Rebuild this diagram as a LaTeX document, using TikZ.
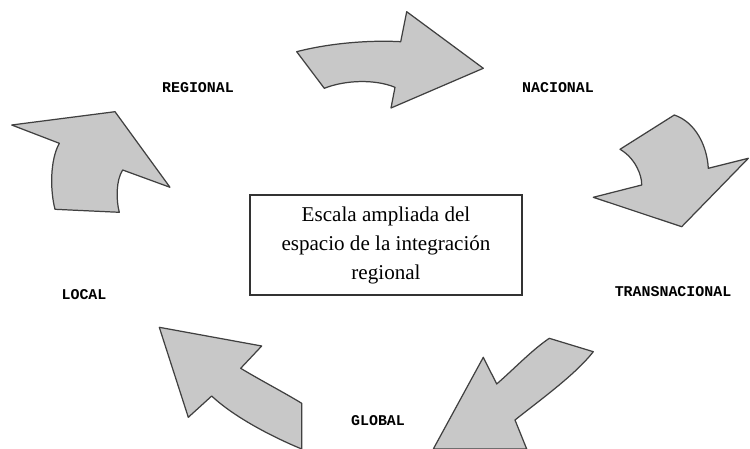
\documentclass[tikz,border=0pt]{standalone}
\usepackage{fontspec}
\setmainfont{Liberation Serif}
\newfontfamily\labelfont{Liberation Mono}
\usetikzlibrary{calc}
\definecolor{arrowgray}{RGB}{200,200,200}
\definecolor{edgegray}{RGB}{64,64,64}
\tikzset{
  blockarrow/.style={fill=arrowgray, draw=edgegray, line width=.7pt, line join=round},
  scalelabel/.style={font=\labelfont\bfseries\fontsize{8.5}{10}\selectfont},
  centerbox/.style={draw=black!80, line width=1pt, align=center, inner sep=0pt,
    minimum width=5.44cm, minimum height=2cm, font=\fontsize{12}{16.5}\selectfont}
}

\begin{document}
\begin{tikzpicture}[x=0.02cm, y=-0.02cm]
\useasboundingbox (0,0) rectangle (750,449);
% the five block arrows
%     top arrow (REGIONAL to NACIONAL)
\draw[blockarrow] (296.7,51.7) .. controls (330,43) and (370,40) .. (400.7,41.7)
  -- (406.7,11.7) -- (483.3,68.3) -- (391,108) -- (395,87.3)
  .. controls (375,79) and (345,80) .. (324.3,88.3) -- cycle;
%     right arrow (NACIONAL to TRANSNACIONAL)
\draw[blockarrow] (674.3,115) .. controls (695,122) and (707,145) .. (708.3,168.3)
  -- (748.3,158.3) -- (681.7,226.7) -- (593.3,197.3) -- (641.7,185)
  .. controls (642,175) and (635,158) .. (620,149.3) -- cycle;
%     bottom right arrow (TRANSNACIONAL to GLOBAL)
\draw[blockarrow] (549.3,338.3) .. controls (532,350) and (515,368) .. (496.7,384)
  -- (483.3,357.3) -- (433.3,449) -- (526.7,449) -- (515,420)
  .. controls (540,400) and (575,375) .. (593.3,351.7) -- cycle;
%     bottom left arrow (GLOBAL to LOCAL)
\draw[blockarrow] (159.3,327.3) -- (261.7,346) -- (240.7,368.3)
  .. controls (260,380) and (285,393) .. (301.7,403.3) -- (301.7,449)
  .. controls (275,438) and (235,418) .. (211.7,396) -- (188.3,417.3) -- cycle;
%     left arrow (LOCAL to REGIONAL)
\draw[blockarrow] (11.7,125) -- (115,111.7) -- (170,187.3) -- (122.7,170)
  .. controls (116,180) and (116,200) .. (119.3,212.3) -- (55,209.3)
  .. controls (50,190) and (50,160) .. (59.3,143.3) -- cycle;
% the centre box
\node[centerbox] (centro) at (386,245) {Escala ampliada del\\espacio de la integración\\regional};
% the scale labels
\node[scalelabel] (regional) at (198,88) {REGIONAL};
\node[scalelabel] (nacional) at (558,88) {NACIONAL};
\node[scalelabel] (transnacional) at (673,292) {TRANSNACIONAL};
\node[scalelabel] (global) at (378,421) {GLOBAL};
\node[scalelabel] (local) at (84,295) {LOCAL};
\end{tikzpicture}
\end{document}
